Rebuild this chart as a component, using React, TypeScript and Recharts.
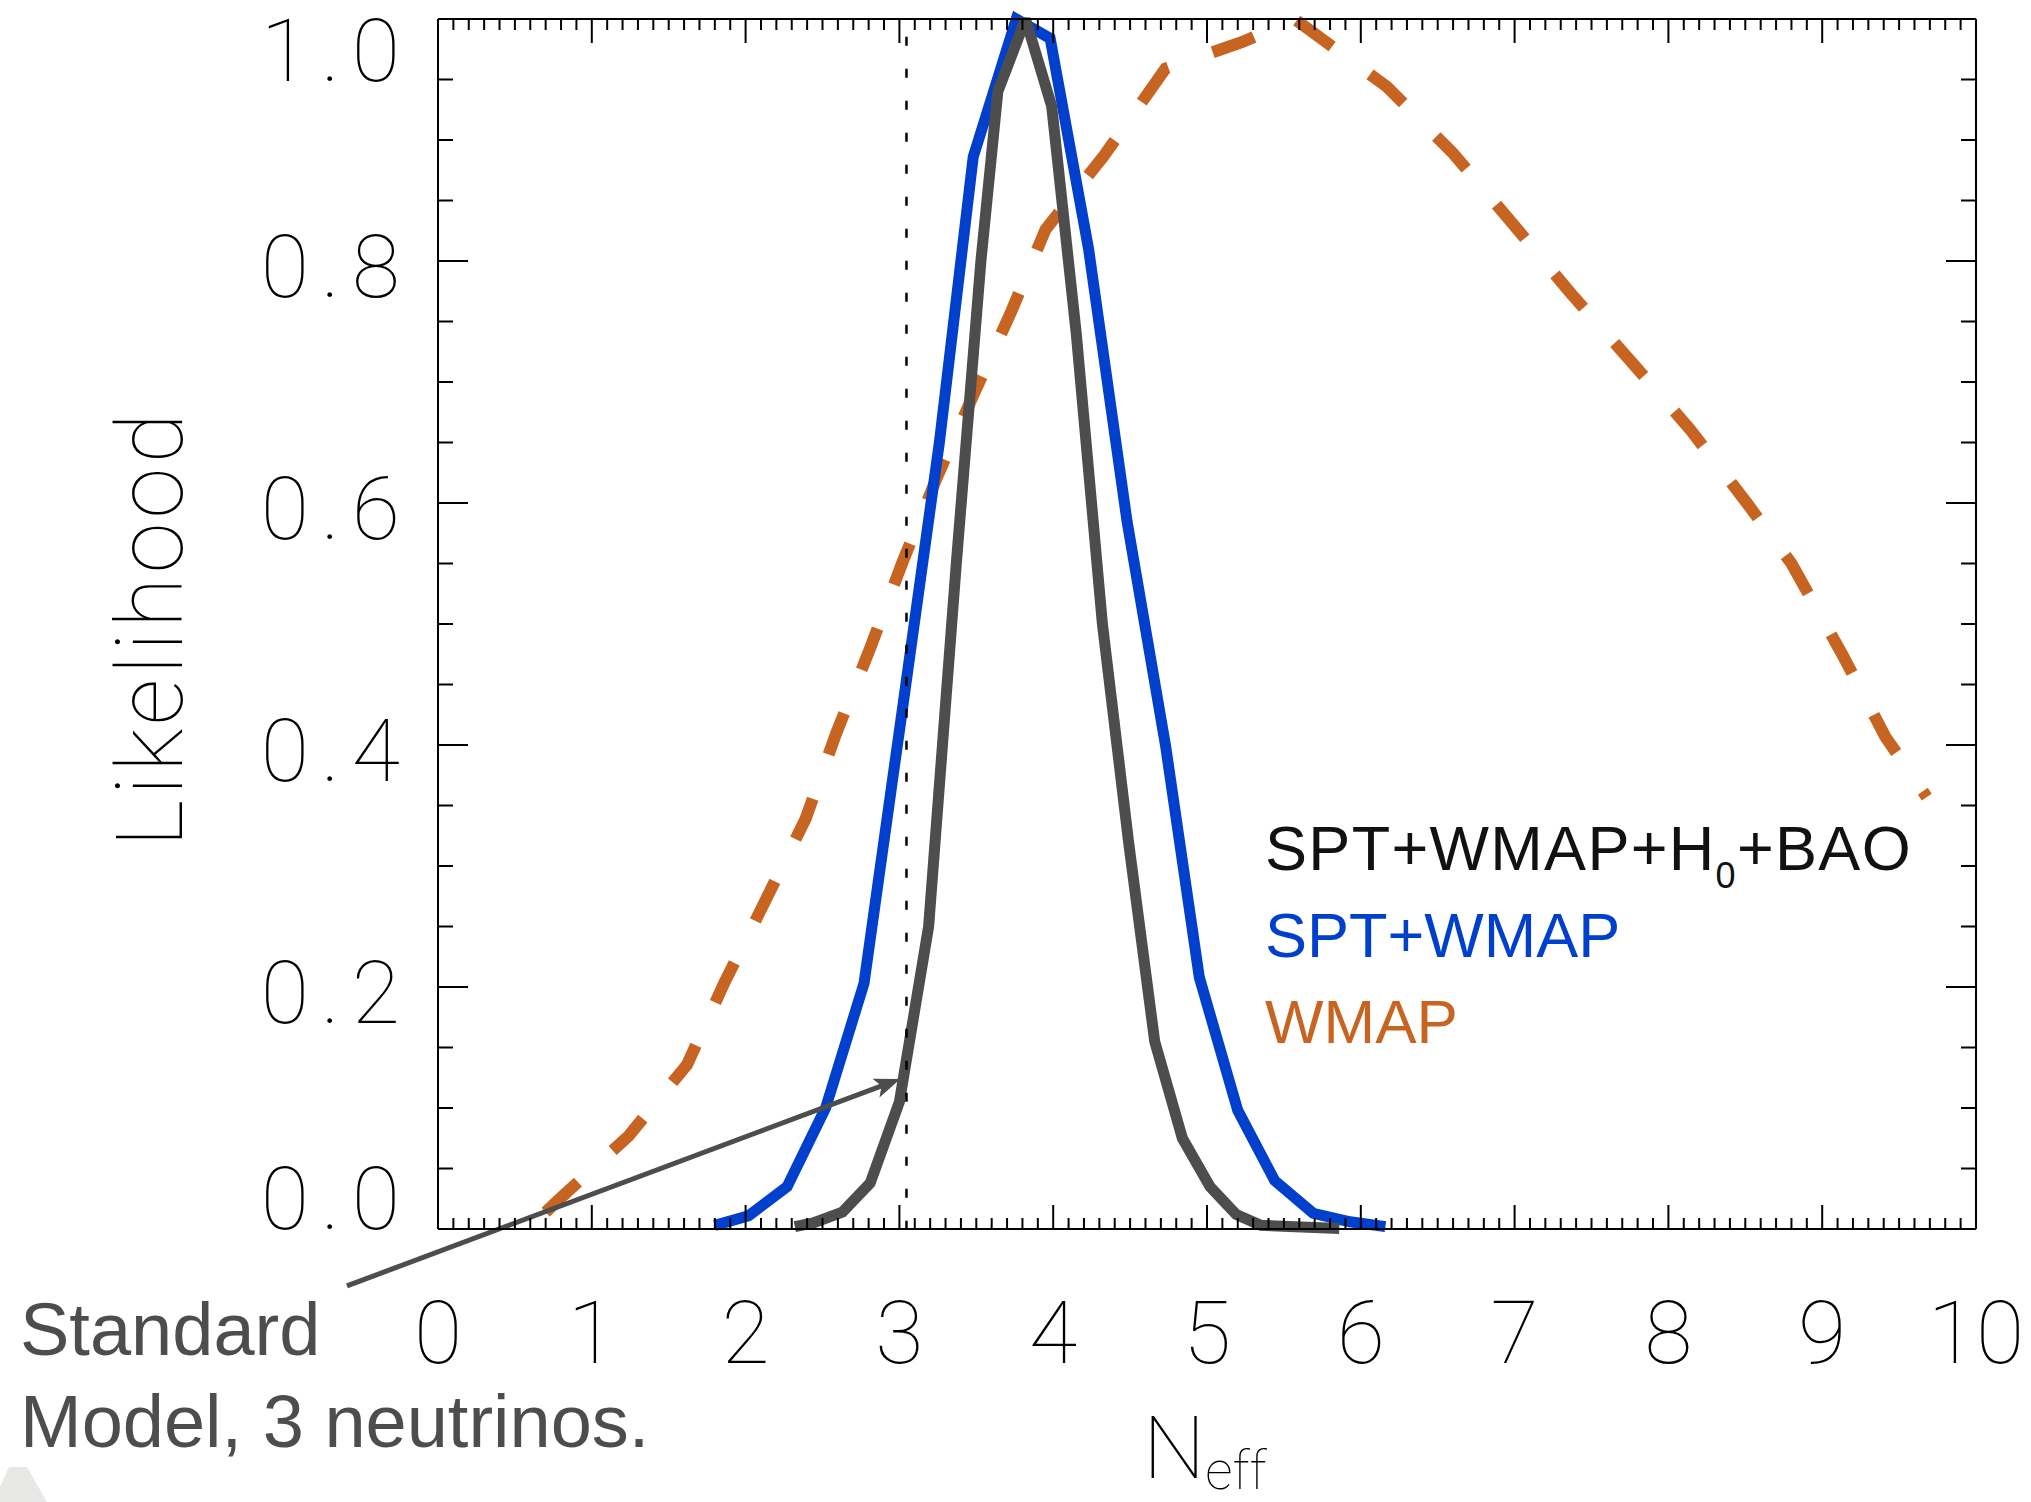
import React from 'react';
import { LineChart, Line, XAxis, YAxis, ReferenceLine } from 'recharts';

// ---- data ----
const combinedX = [2.32, 2.44, 2.63, 2.81, 3.0, 3.19, 3.37, 3.53, 3.64, 3.82, 3.99, 4.15, 4.32, 4.49, 4.66, 4.84, 5.02, 5.19, 5.35, 5.86];
const combinedY = [0.002, 0.005, 0.014, 0.038, 0.105, 0.25, 0.55, 0.8, 0.94, 1.0, 0.928, 0.74, 0.5, 0.32, 0.155, 0.075, 0.035, 0.012, 0.003, 0.0005];

const sptWmapX = [1.8, 2.02, 2.27, 2.52, 2.77, 3.02, 3.26, 3.48, 3.76, 3.98, 4.23, 4.48, 4.73, 4.95, 5.2, 5.44, 5.69, 5.93, 6.16];
const sptWmapY = [0.003, 0.011, 0.035, 0.1, 0.203, 0.43, 0.65, 0.886, 1.0, 0.984, 0.81, 0.585, 0.4, 0.208, 0.098, 0.04, 0.013, 0.006, 0.002];

const wmapX = [0.7, 0.8, 1.24, 1.62, 1.86, 2.135, 2.39, 2.59, 2.81, 3.02, 3.24, 3.48, 3.73, 3.95, 4.33, 4.73, 5.23, 5.57, 6.17, 6.6, 6.98, 7.36, 7.75, 8.14, 8.51, 8.8, 9.13, 9.41, 9.68];
const wmapY = [0.014, 0.026, 0.077, 0.136, 0.203, 0.273, 0.339, 0.41, 0.48, 0.551, 0.62, 0.689, 0.759, 0.826, 0.887, 0.959, 0.981, 1.0, 0.944, 0.889, 0.832, 0.774, 0.718, 0.661, 0.6, 0.55, 0.475, 0.407, 0.357];

const standardModelNeff = 3.046;
const arrowFrom = { x: -0.592, y: -0.047 };
const arrowTo = { x: 3.006, y: 0.124 };

const xTicks = Array.from({ length: 101 }, (_, k) => k / 10);
const yTicks = Array.from({ length: 21 }, (_, k) => k / 20);

const legendLabels = ['SPT+WMAP+H', '0', '+BAO', 'SPT+WMAP', 'WMAP'];
const annotationLines = ['Standard', 'Model, 3 neutrinos.'];

// ---- styles ----
const BLUE = '#0040cc';
const GRAY = '#4d4d4d';
const ORANGE = '#c86422';
const THIN = "'Roboto', 'Lato', 'DejaVu Sans', sans-serif";
const SANS = "'Liberation Sans', Arial, sans-serif";

const toPts = (xs: number[], ys: number[]) => xs.map((x, i) => ({ x, y: ys[i] }));
const combinedData = toPts(combinedX, combinedY);
const sptWmapData = toPts(sptWmapX, sptWmapY);
const wmapData = toPts(wmapX, wmapY);

const tickTextStyle: React.CSSProperties = { fontFamily: THIN, fontWeight: 100, fontSize: 88, fill: '#000' };
const Y_LS = 12;

const BottomTick = (p: any) => {
  const { x, y, payload } = p;
  const v = payload.value;
  const major = Math.abs(v - Math.round(v)) < 1e-6;
  return (
    <g>
      <line x1={x} y1={y} x2={x} y2={y - (major ? 24 : 11)} stroke="#000" strokeWidth={2} />
      {major && (
        <text x={x} y={y + 134} textAnchor="middle" style={tickTextStyle}>
          {String(Math.round(v))}
        </text>
      )}
    </g>
  );
};

const TopTick = (p: any) => {
  const { x, y, payload } = p;
  const v = payload.value;
  const major = Math.abs(v - Math.round(v)) < 1e-6;
  return <line x1={x} y1={y} x2={x} y2={y + (major ? 24 : 11)} stroke="#000" strokeWidth={2} />;
};

const LeftTick = (p: any) => {
  const { x, y, payload } = p;
  const v = payload.value;
  const k = Math.round(v * 20);
  const major = k % 4 === 0;
  let dy = 36;
  if (k === 20) dy = 62;
  if (k === 0) dy = 0;
  return (
    <g>
      <line x1={x} y1={y} x2={x + (major ? 30 : 15)} y2={y} stroke="#000" strokeWidth={2} />
      {major && (
        <text x={x - 38 + Y_LS} y={y + dy} textAnchor="end" style={{ ...tickTextStyle, letterSpacing: Y_LS }}>
          {v.toFixed(1)}
        </text>
      )}
    </g>
  );
};

const RightTick = (p: any) => {
  const { x, y, payload } = p;
  const v = payload.value;
  const k = Math.round(v * 20);
  const major = k % 4 === 0;
  return <line x1={x} y1={y} x2={x - (major ? 30 : 15)} y2={y} stroke="#000" strokeWidth={2} />;
};

const ArrowShape = (p: any) => {
  const { x1, y1, x2, y2 } = p;
  const dx = x2 - x1;
  const dy = y2 - y1;
  const len = Math.sqrt(dx * dx + dy * dy) || 1;
  const ux = dx / len;
  const uy = dy / len;
  const headLen = 26;
  const halfW = 10;
  const bx = x2 - ux * headLen;
  const by = y2 - uy * headLen;
  const inner = 6;
  const ix = x2 - ux * (headLen - inner);
  const iy = y2 - uy * (headLen - inner);
  const pts = [
    [x2, y2],
    [bx - uy * halfW, by + ux * halfW],
    [ix, iy],
    [bx + uy * halfW, by - ux * halfW],
  ]
    .map((q) => q.join(','))
    .join(' ');
  return (
    <g>
      <line x1={x1} y1={y1} x2={ix} y2={iy} stroke={GRAY} strokeWidth={5} />
      <polygon points={pts} fill={GRAY} />
    </g>
  );
};

export default function App() {
  return (
    <div style={{ position: 'absolute', left: 0, top: 0, width: 2031, height: 1502, background: '#fff' }}>
      <LineChart width={2031} height={1502} margin={{ top: 18, right: 54, bottom: 0, left: 0 }}>
        <XAxis
          xAxisId="b"
          type="number"
          dataKey="x"
          domain={[0, 10]}
          ticks={xTicks}
          interval={0}
          height={273}
          tickSize={0}
          tickMargin={0}
          tickLine={false}
          axisLine={{ stroke: '#000', strokeWidth: 2 }}
          tick={(p: any) => <BottomTick {...p} />}
        />
        <XAxis
          xAxisId="t"
          orientation="top"
          type="number"
          dataKey="x"
          domain={[0, 10]}
          ticks={xTicks}
          interval={0}
          height={1}
          tickSize={0}
          tickMargin={0}
          tickLine={false}
          axisLine={{ stroke: '#000', strokeWidth: 2 }}
          tick={(p: any) => <TopTick {...p} />}
        />
        <YAxis
          yAxisId="l"
          type="number"
          domain={[0, 1]}
          ticks={yTicks}
          interval={0}
          width={438}
          tickSize={0}
          tickMargin={0}
          tickLine={false}
          axisLine={{ stroke: '#000', strokeWidth: 2 }}
          tick={(p: any) => <LeftTick {...p} />}
        />
        <YAxis
          yAxisId="r"
          orientation="right"
          type="number"
          domain={[0, 1]}
          ticks={yTicks}
          interval={0}
          width={1}
          tickSize={0}
          tickMargin={0}
          tickLine={false}
          axisLine={{ stroke: '#000', strokeWidth: 2 }}
          tick={(p: any) => <RightTick {...p} />}
        />
        {/* invisible series bound to the frame axes so they render */}
        <Line
          xAxisId="t"
          yAxisId="r"
          data={wmapData}
          dataKey="y"
          type="linear"
          stroke="none"
          strokeWidth={0}
          dot={false}
          activeDot={false}
          legendType="none"
          isAnimationActive={false}
        />
        <Line
          xAxisId="b"
          yAxisId="l"
          data={wmapData}
          dataKey="y"
          type="linear"
          stroke={ORANGE}
          strokeWidth={12}
          strokeDasharray="44 47"
          strokeLinecap="butt"
          strokeLinejoin="miter"
          dot={false}
          activeDot={false}
          isAnimationActive={false}
        />
        <Line
          xAxisId="b"
          yAxisId="l"
          data={sptWmapData}
          dataKey="y"
          type="linear"
          stroke={BLUE}
          strokeWidth={11}
          strokeLinecap="butt"
          strokeLinejoin="miter"
          strokeMiterlimit={2.5}
          dot={false}
          activeDot={false}
          isAnimationActive={false}
        />
        <Line
          xAxisId="b"
          yAxisId="l"
          data={combinedData}
          dataKey="y"
          type="linear"
          stroke={GRAY}
          strokeWidth={11}
          strokeLinecap="butt"
          strokeLinejoin="miter"
          strokeMiterlimit={2.5}
          dot={false}
          activeDot={false}
          isAnimationActive={false}
        />
        <ReferenceLine
          xAxisId="b"
          yAxisId="l"
          segment={[
            { x: standardModelNeff, y: 1 },
            { x: standardModelNeff, y: 0 },
          ]}
          stroke="#000"
          strokeWidth={2.5}
          strokeDasharray="9 23"
          strokeDashoffset={14.3}
        />
        <ReferenceLine
          xAxisId="b"
          yAxisId="l"
          segment={[arrowFrom, arrowTo]}
          ifOverflow="visible"
          stroke={GRAY}
          shape={(p: any) => <ArrowShape {...p} />}
        />
        <g>
          <text
            transform="translate(182,628) rotate(-90)"
            textAnchor="middle"
            style={{ fontFamily: THIN, fontWeight: 100, fontSize: 92, fill: '#000', letterSpacing: 4.3 }}
          >
            Likelihood
          </text>
          <text x={1143} y={1478} style={{ fontFamily: THIN, fontWeight: 100, fontSize: 88, fill: '#000' }}>
            N
            <tspan dy={11} style={{ fontSize: 54 }}>
              eff
            </tspan>
          </text>
          <text x={1265} y={870} style={{ fontFamily: SANS, fontSize: 63, fill: '#111', letterSpacing: 1.3 }}>
            {legendLabels[0]}
            <tspan dy={18} style={{ fontSize: 36 }}>
              {legendLabels[1]}
            </tspan>
            <tspan dy={-18}>{legendLabels[2]}</tspan>
          </text>
          <text x={1265} y={957} style={{ fontFamily: SANS, fontSize: 63, fill: BLUE }}>
            {legendLabels[3]}
          </text>
          <text x={1265} y={1043} style={{ fontFamily: SANS, fontSize: 62, fill: ORANGE }}>
            {legendLabels[4]}
          </text>
          <text x={20} y={1355} style={{ fontFamily: SANS, fontSize: 74, fill: GRAY }}>
            {annotationLines[0]}
          </text>
          <text x={20} y={1447} style={{ fontFamily: SANS, fontSize: 74, fill: GRAY }}>
            {annotationLines[1]}
          </text>
          <polygon points="9,1467 27,1467 47,1502 0,1502 0,1487" fill="#e8e8e6" />
        </g>
      </LineChart>
    </div>
  );
}
